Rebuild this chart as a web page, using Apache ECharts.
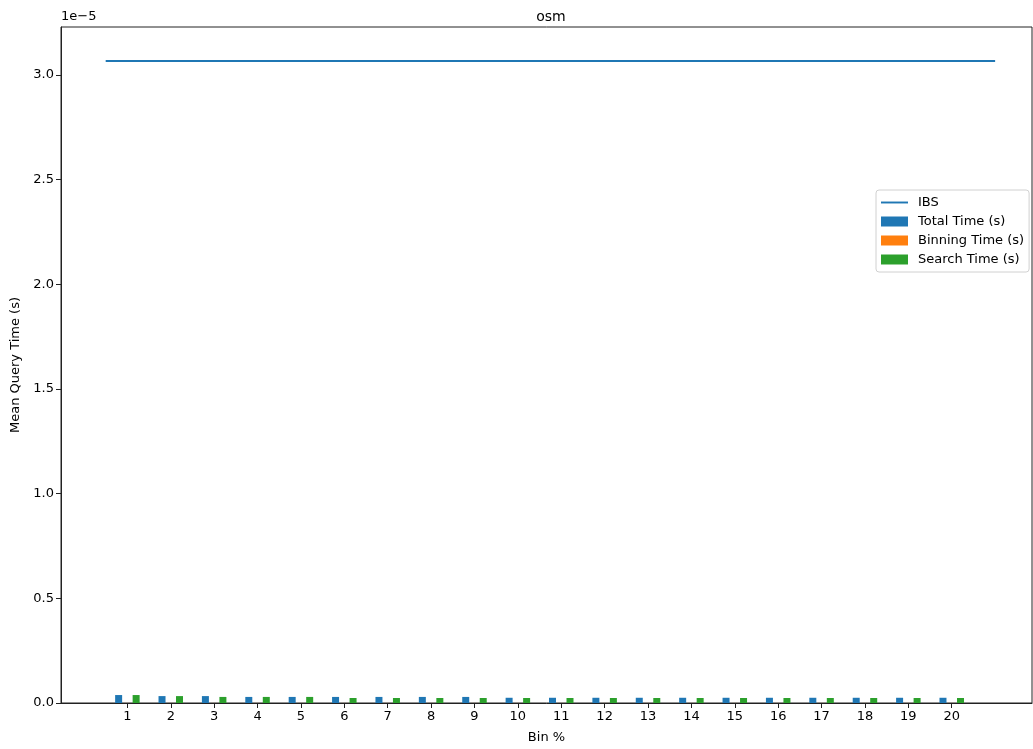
<!DOCTYPE html>
<html>
<head>
<meta charset="utf-8">
<script src="https://cdn.jsdelivr.net/npm/echarts@6/dist/echarts.min.js"></script>
<style>html,body{margin:0;padding:0;background:#fff;}#c{width:1033px;height:749px;}</style>
</head>
<body>
<div id="c"></div>
<script>
// ---- data ----
const bins = [1,2,3,4,5,6,7,8,9,10,11,12,13,14,15,16,17,18,19,20];
const totalTime = [3.8e-7,3.3e-7,3.3e-7,2.9e-7,2.9e-7,2.9e-7,2.9e-7,2.9e-7,2.9e-7,2.5e-7,2.5e-7,2.5e-7,2.5e-7,2.5e-7,2.5e-7,2.5e-7,2.5e-7,2.5e-7,2.5e-7,2.5e-7];
const binningTime = [2e-9,2e-9,2e-9,2e-9,2e-9,2e-9,2e-9,2e-9,2e-9,2e-9,2e-9,2e-9,2e-9,2e-9,2e-9,2e-9,2e-9,2e-9,2e-9,2e-9];
const searchTime = [3.8e-7,3.3e-7,2.9e-7,2.9e-7,2.9e-7,2.4e-7,2.4e-7,2.4e-7,2.4e-7,2.4e-7,2.4e-7,2.4e-7,2.4e-7,2.4e-7,2.4e-7,2.4e-7,2.4e-7,2.4e-7,2.4e-7,2.4e-7];
const ibsValue = 3.067e-5;
const ibsRange = [0.5, 21];
const yTicks = [0, 0.5e-5, 1.0e-5, 1.5e-5, 2.0e-5, 2.5e-5, 3.0e-5];

const font = 'DejaVu Sans';
const spine = '#222';
const chart = echarts.init(document.getElementById('c'));
const pair = arr => bins.map((b, i) => [b, arr[i]]);
chart.setOption({
  animation: false,
  textStyle: {fontFamily: font},
  title: {text: 'osm', left: 546, top: 5, textAlign: 'center',
    textStyle: {fontFamily: font, fontSize: 14, fontWeight: 'normal', color: '#000'}},
  grid: {left: 61, right: 1, top: 27, bottom: 43, show: true, borderColor: spine, borderWidth: 1},
  graphic: [{type: 'text', left: 61, top: 10,
    style: {text: '1e\u22125', font: '13px "DejaVu Sans"', fill: '#000'}}],
  legend: {
    orient: 'vertical', left: 876, top: 190,
    itemWidth: 27, itemHeight: 10, itemGap: 6,
    padding: [6, 5, 6, 5],
    backgroundColor: '#fff', borderColor: '#d0d0d0', borderWidth: 1, borderRadius: 3,
    textStyle: {fontFamily: font, fontSize: 13, color: '#000', padding: [0, 0, 0, 5]},
    data: [
      {name: 'IBS', icon: 'path://M0,4 L28,4 L28,6 L0,6 Z'},
      {name: 'Total Time (s)', icon: 'rect'},
      {name: 'Binning Time (s)', icon: 'rect'},
      {name: 'Search Time (s)', icon: 'rect'}
    ]
  },
  xAxis: {
    type: 'value', min: -0.53, max: 21.85,
    name: 'Bin %', nameLocation: 'middle', nameGap: 28,
    nameTextStyle: {fontFamily: font, fontSize: 13, color: '#000'},
    splitLine: {show: false},
    axisLine: {show: true, onZero: false, lineStyle: {color: spine, width: 1}},
    axisTick: {show: true, length: 5, customValues: bins, lineStyle: {color: spine}},
    axisLabel: {customValues: bins, color: '#000', fontSize: 13, fontFamily: font, margin: 7,
      formatter: v => String(v)}
  },
  yAxis: {
    type: 'value', min: 0, max: 3.229e-5,
    name: 'Mean Query Time (s)', nameLocation: 'middle', nameGap: 34,
    nameTextStyle: {fontFamily: font, fontSize: 13, color: '#000'},
    splitLine: {show: false},
    axisLine: {show: true, onZero: false, lineStyle: {color: spine, width: 1}},
    axisTick: {show: true, length: 5, customValues: yTicks, lineStyle: {color: spine}},
    axisLabel: {customValues: yTicks, color: '#000', fontSize: 13, fontFamily: font, margin: 7,
      formatter: v => (v * 1e5).toFixed(1)}
  },
  series: [
    {name: 'IBS', type: 'line', data: ibsRange.map(x => [x, ibsValue]), symbol: 'none',
      lineStyle: {color: '#1f77b4', width: 2}, itemStyle: {color: '#1f77b4'}},
    {name: 'Total Time (s)', type: 'bar', data: pair(totalTime), barWidth: 7, barGap: '25%',
      itemStyle: {color: '#1f77b4'}},
    {name: 'Binning Time (s)', type: 'bar', data: pair(binningTime), barWidth: 7, barGap: '25%',
      itemStyle: {color: '#ff7f0e'}},
    {name: 'Search Time (s)', type: 'bar', data: pair(searchTime), barWidth: 7, barGap: '25%',
      itemStyle: {color: '#2ca02c'}}
  ]
});
</script>
</body>
</html>
